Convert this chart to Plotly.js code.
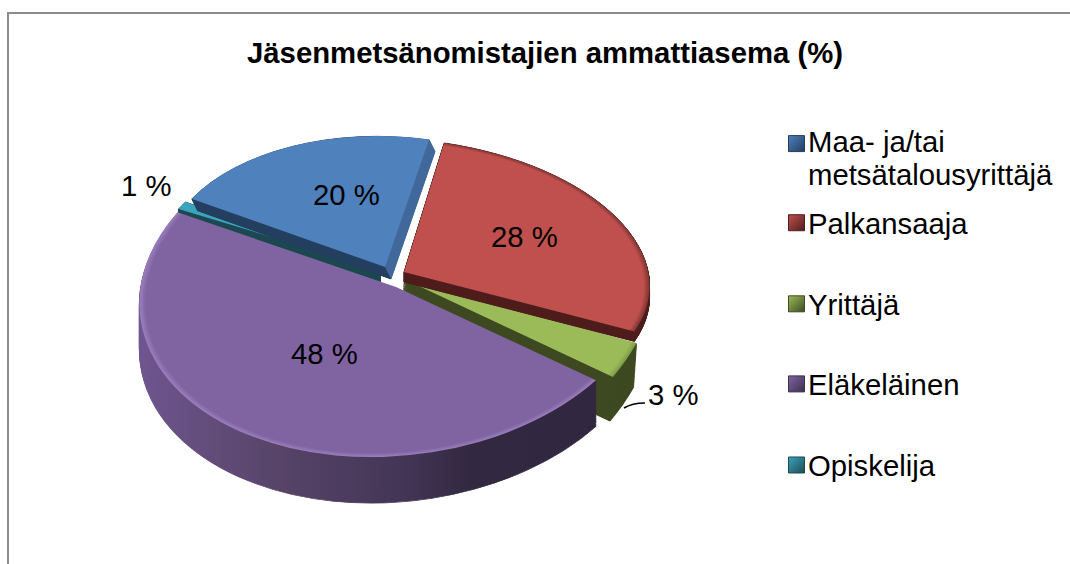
<!DOCTYPE html>
<html><head><meta charset="utf-8">
<script src="https://cdn.plot.ly/plotly-3.0.1.min.js"></script>
<style>html,body{margin:0;padding:0;background:#fff}#c{width:1070px;height:564px}</style>
</head><body><div id="c"></div>
<script>
const categories = ['Maa- ja/tai<br>metsätalousyrittäjä','Palkansaaja','Yrittäjä','Eläkeläinen','Opiskelija'];
const values = [20,28,3,48,1];
const topColors = ['#4f81bd','#c0504d','#9bbb59','#8064a2','#3ba3bd'];
const wallColors = ['#233e5f','#4f1e1d','#3f4a22','#3d3050','#1e4a52'];
const rimColors = ['#4f81bd','#7d3432','#7f9a48','#9b7fbe','#3ba3bd'];
const labelX = [346,524,673,324,146];
const labelY = [195,236,394,353,185];
// projection of each slice: tip x,y, radii, skews, wall offset
const tipX = [385,404,404,396,381];
const tipY = [267,272,279,287,270];
const radX = [222,245,255,256,229];
const radY = [131,134,197,170,131];
const skewX = [0.058,0.127,0,-0.1,0];
const skewY = [0,0.02,-0.072,-0.02,0];
const wallDX = [6,0,-3,0,0];
const wallDY = [12,10,44,46,13];
const drawOrder = [4,0,2,1,3];
const legendShift = [-7,-46,-48,-51,-53];
const W=1070,H=564,N=40;
const px=x=>x/W, py=y=>1-y/H;
const FS=29.3;

const data=[];
for(let j=0;j<=N;j++){
  data.push({type:'pie',values:values,labels:categories,sort:false,direction:'clockwise',rotation:301.4,
    textinfo:'none',hoverinfo:'skip',showlegend:false,
    domain:{x:[0,0.6],y:[0,0.88]},
    marker:{colors:j===N?topColors:wallColors,line:j===N?{width:0}:{width:1,color:wallColors}}});
}
categories.forEach((c,i)=>data.push({type:'scatter',mode:'markers',x:[null],y:[null],name:c,legendgroup:'g'+i,
  marker:{symbol:'square',size:16,color:topColors[i],line:{width:1,color:wallColors[i]}},hoverinfo:'skip'}));

const layout={width:W,height:H,margin:{l:0,r:0,t:0,b:0},paper_bgcolor:'#fff',plot_bgcolor:'#fff',
  font:{family:'"Liberation Sans",Arial,sans-serif',color:'#000',size:FS},
  title:{text:'Jäsenmetsänomistajien ammattiasema (%)',x:px(545),xanchor:'center',y:py(53),yanchor:'middle',
    font:{family:'"Liberation Sans",Arial,sans-serif',size:FS,color:'#000',weight:700}},
  xaxis:{visible:false,domain:[0.9,1]},yaxis:{visible:false,domain:[0.9,1]},
  showlegend:true,
  legend:{x:px(768),xanchor:'left',y:py(122),yanchor:'top',tracegroupgap:42,bgcolor:'rgba(0,0,0,0)',
    font:{family:'"Liberation Sans",Arial,sans-serif',size:FS,color:'#000'},traceorder:'grouped'},
  annotations:values.map((v,i)=>({text:v+' %',xref:'paper',yref:'paper',x:px(labelX[i]),y:py(labelY[i]),
    xanchor:'center',yanchor:'middle',showarrow:false,font:{size:FS,color:'#000'}})),
  shapes:[
    {type:'line',xref:'paper',yref:'paper',x0:px(8),x1:1,y0:py(13),y1:py(13),line:{color:'#8c8c8c',width:2}},
    {type:'line',xref:'paper',yref:'paper',x0:px(8),x1:px(8),y0:py(12),y1:0,line:{color:'#8c8c8c',width:2}},
    {type:'path',xref:'paper',yref:'paper',
     path:`M ${px(624)} ${py(408)} Q ${px(632)} ${py(403)} ${px(645)} ${py(403)}`,line:{color:'#000',width:1.5}}
  ]};

function el(n,attrs,parent){const e=document.createElementNS('http://www.w3.org/2000/svg',n);
  for(const k in attrs)e.setAttribute(k,attrs[k]);if(parent)parent.appendChild(e);return e;}

Plotly.newPlot('c',data,layout,{displayModeBar:false}).then(gd=>{
  const cd=gd.calcdata[0][0],cx=cd.cx,cy=cd.cy,r=cd.r;
  const svg=gd.querySelector('.main-svg');
  const defs=svg.querySelector('defs')||el('defs',{},svg);
  topColors.forEach((c,i)=>{
    const g=el('radialGradient',{id:'top'+i,gradientUnits:'userSpaceOnUse',cx:cx,cy:cy,r:r},defs);
    el('stop',{offset:'0.975',style:`stop-color:${c}`},g);
    el('stop',{offset:'1',style:`stop-color:${rimColors[i]}`},g);
  });
  const pw=el('linearGradient',{id:'wall3',gradientUnits:'userSpaceOnUse',x1:cx-r,x2:cx+r,y1:0,y2:0},defs);
  [[0,'#6f5690'],[0.3,'#574468'],[0.55,'#433556'],[0.68,'#322840'],[1,'#31263f']].forEach(s=>el('stop',{offset:s[0],style:`stop-color:${s[1]}`},pw));
  const bw=el('linearGradient',{id:'wall0',gradientUnits:'userSpaceOnUse',x1:cx-0.5,x2:cx+0.5,y1:0,y2:0},defs);
  [[0,'#233e5f'],[1,'#41689a']].forEach(s=>el('stop',{offset:s[0],style:`stop-color:${s[1]}`},bw));
  topColors.forEach((c,i)=>{
    const g=el('linearGradient',{id:'sw'+i,x1:0,y1:0,x2:1,y2:1},defs);
    el('stop',{offset:0,style:`stop-color:${c}`},g);
    el('stop',{offset:1,style:`stop-color:${wallColors[i]}`},g);
  });
  const layer=gd.querySelector('.pielayer');
  const traces=[...layer.querySelectorAll('.trace')];
  const slices=traces.map(t=>[...t.querySelectorAll('.slice')]);
  drawOrder.forEach(s=>{
    for(let j=0;j<=N;j++){
      const f=(N-j)/N, g=slices[j][s];
      const a=radX[s]/r,d=radY[s]/r,c=skewX[s]*d,b=skewY[s]*a;
      const tx=tipX[s]+wallDX[s]*f, ty=tipY[s]+wallDY[s]*f;
      g.setAttribute('transform',`translate(${tx},${ty}) matrix(${a},${b},${c},${d},0,0) translate(${-cx},${-cy})`);
      const p=g.querySelector('path');
      if(j===N) p.style.fill=`url(#top${s})`;
      else if(s===3||s===0){p.style.fill=`url(#wall${s})`;p.style.stroke=`url(#wall${s})`;}
      layer.appendChild(g);
    }
  });
  gd.querySelectorAll('.legend .groups').forEach((g,i)=>{
    const m=/translate\(([-\d.]+)[ ,]+([-\d.]+)\)/.exec(g.getAttribute('transform')||'translate(0,0)');
    g.setAttribute('transform',`translate(${m[1]},${parseFloat(m[2])+legendShift[i]})`);
    const sym=g.querySelector('.legendsymbols');
    sym.setAttribute('transform',`translate(8.5,${i===0?-16:0})`);
    sym.querySelectorAll('.legendpoints path').forEach(p=>{p.style.fill=`url(#sw${i})`;});
    g.querySelectorAll('.legendtext tspan.line').forEach((t,k)=>{if(k>0)t.setAttribute('dy','1.126em');});
  });
});
</script></body></html>
